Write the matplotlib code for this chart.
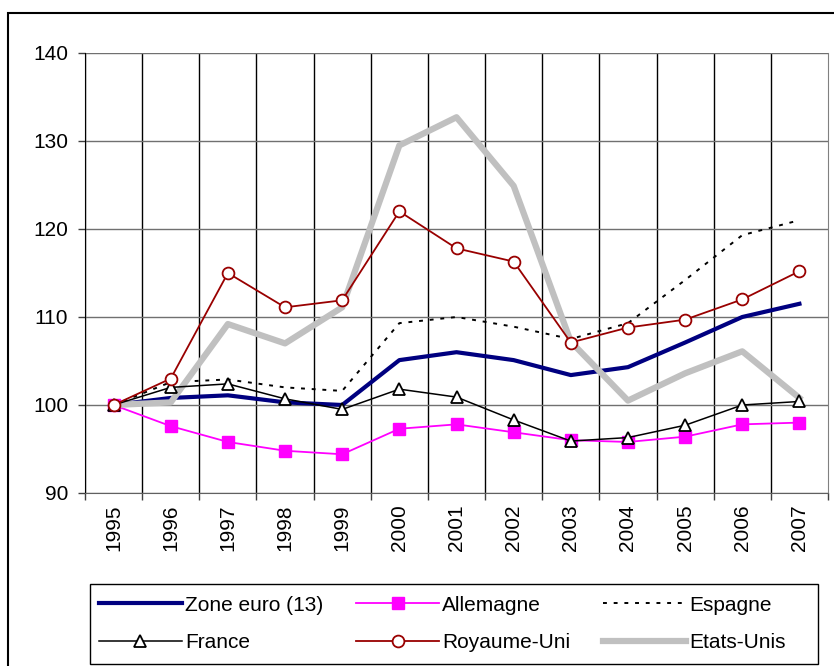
import numpy as np
import matplotlib as mpl
import matplotlib.pyplot as plt
import matplotlib.patches as ptc

plt.rcParams["font.family"] = ["Liberation Sans", "DejaVu Sans"]

years = ["1995", "1996", "1997", "1998", "1999", "2000", "2001",
         "2002", "2003", "2004", "2005", "2006", "2007"]
zone_euro = [100.0, 100.8, 101.1, 100.3, 100.0, 105.1, 106.0, 105.1, 103.4, 104.3, 107.1, 110.0, 111.5]
allemagne = [100.0, 97.6, 95.8, 94.8, 94.4, 97.3, 97.8, 96.9, 96.0, 95.8, 96.4, 97.8, 98.0]
espagne = [100.0, 102.6, 102.9, 102.0, 101.6, 109.3, 110.0, 108.9, 107.5, 109.3, 114.2, 119.3, 121.0]
france = [100.0, 102.0, 102.4, 100.7, 99.5, 101.8, 100.9, 98.3, 95.9, 96.3, 97.7, 100.0, 100.4]
royaume_uni = [100.0, 103.0, 115.0, 111.1, 111.9, 122.0, 117.8, 116.3, 107.1, 108.8, 109.7, 112.0, 115.2]
etats_unis = [100.0, 100.3, 109.2, 107.0, 111.1, 129.5, 132.7, 124.9, 107.2, 100.5, 103.6, 106.1, 100.8]

y_ticks = [90, 100, 110, 120, 130, 140]

W, H = 834, 666
fig = plt.figure(figsize=(W/100, H/100), dpi=100)
ax = fig.add_axes([85/W, 1 - 493/H, 743/W, 440/H])

x = np.arange(len(years))
l_ze, = ax.plot(x, zone_euro, color="#000080", lw=3.0, label="Zone euro (13)", zorder=3)
l_al, = ax.plot(x, allemagne, color="#FF00FF", lw=1.3, marker="s", ms=8,
                mfc="#FF00FF", mec="#FF00FF", label="Allemagne", zorder=3)
l_es, = ax.plot(x, espagne, color="black", lw=1.4, ls=(0, (2, 3.5)),
                label="Espagne", zorder=3)
l_fr, = ax.plot(x, france, color="black", lw=1.1, marker="^", ms=9,
                mfc="white", mec="black", mew=1.3, label="France", zorder=4)
l_ru, = ax.plot(x, royaume_uni, color="#990000", lw=1.3, marker="o", ms=8.5,
                mfc="white", mec="#990000", mew=1.3, label="Royaume-Uni", zorder=4)
l_us, = ax.plot(x, etats_unis, color="#C0C0C0", lw=4.5, label="Etats-Unis", zorder=3.5)

ax.set_xlim(-0.5, len(years) - 0.5)
ax.set_ylim(90, 140)
ax.set_yticks(y_ticks)
ax.set_xticks(x)
ax.set_xticklabels(years, rotation=90)
ax.set_xticks(np.arange(len(years) + 1) - 0.5, minor=True)
ax.tick_params(axis="x", which="major", length=0, pad=8, labelsize=15)
ax.tick_params(axis="x", which="minor", length=5, width=1.0, color="#404040")
ax.tick_params(axis="y", length=5, width=1.0, color="#404040", pad=7, labelsize=15)

ax.grid(axis="y", which="major", color="#707070", lw=1.0, zorder=1)
ax.grid(axis="x", which="minor", color="black", lw=1.0, zorder=1)
ax.xaxis.get_minor_ticks()[-1].gridline.set_visible(False)
ax.set_axisbelow(True)
ax.spines["top"].set_visible(False)
ax.spines["right"].set_color("#808080")
ax.spines["left"].set_color("black")
ax.spines["bottom"].set_color("#606060")

# legend order follows Excel rows (3 columns, filled column-wise)
handles = [l_ze, l_fr, l_al, l_ru, l_es, l_us]
leg = fig.legend(handles=handles, labels=[h.get_label() for h in handles],
                 ncol=3, loc="upper left", bbox_to_anchor=(80/W, 1 - 577/H),
                 fontsize=15, frameon=False, handlelength=4.0,
                 handletextpad=0.15, columnspacing=1.56, borderpad=0.4,
                 labelspacing=0.88)

# legend box drawn separately so it spans the full width like Excel
fig.patches.append(ptc.Rectangle((90/W, 1 - 664/H), 728/W, 80/H,
                                 transform=fig.transFigure, fill=False,
                                 edgecolor="black", lw=1.0))

# chart area border (left and top visible)
fig.patches.append(ptc.Rectangle((8/W, -0.01), 1.0, 1.01 - 13/H,
                                 transform=fig.transFigure, fill=False,
                                 edgecolor="black", lw=1.5))

fig.savefig("out.png", dpi=100)
plt.close(fig)
